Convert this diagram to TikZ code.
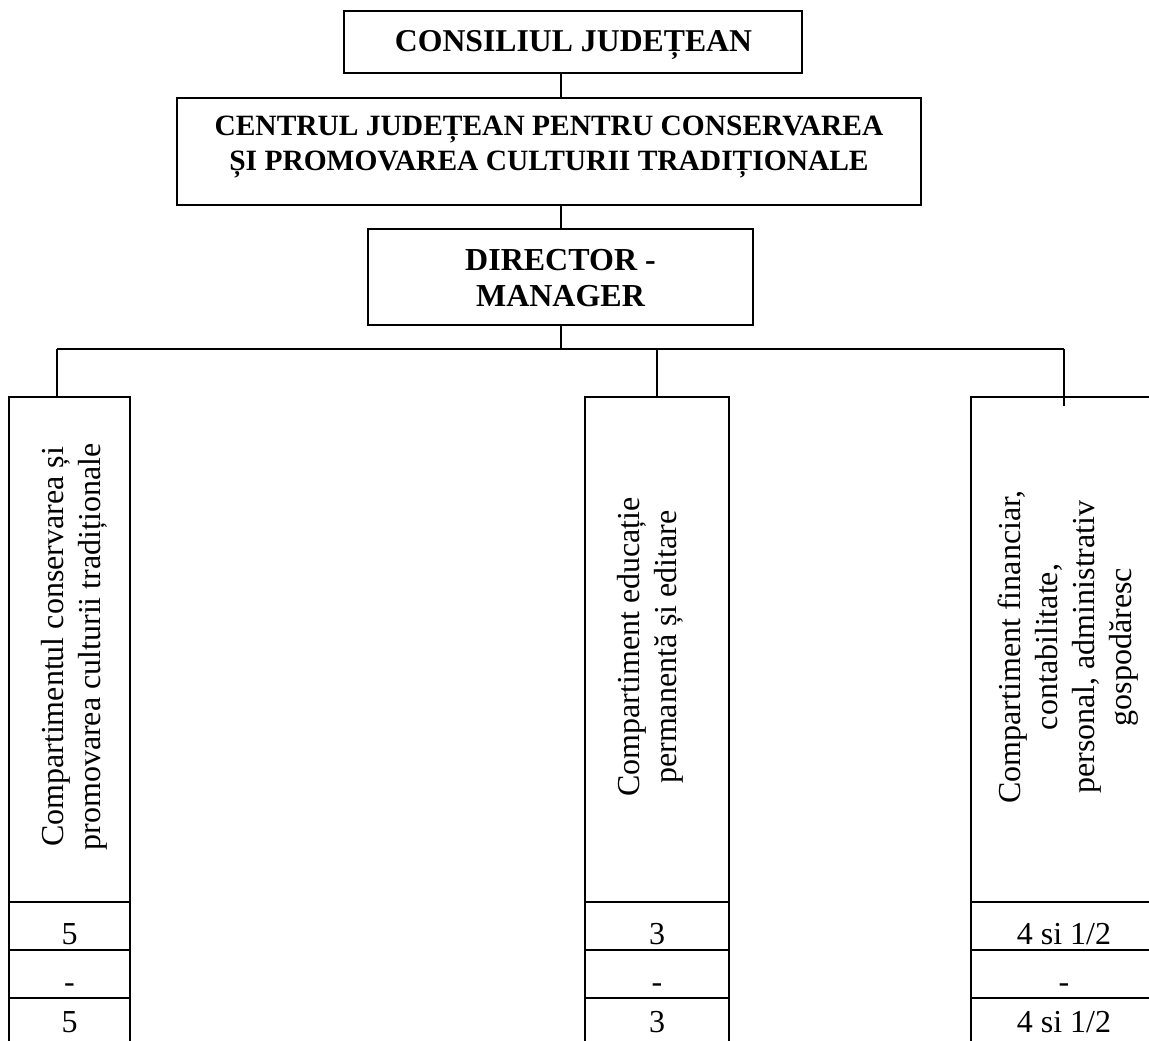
\documentclass[tikz,border=0pt]{standalone}
\usepackage{fontspec}
\setmainfont{Liberation Serif}

\tikzset{
  box/.style={draw, line width=1.5pt, inner sep=0pt},
  link/.style={line width=1.5pt},
  cell/.style={box, minimum height=36pt, text height=27pt, text depth=0pt,
    font=\fontsize{24}{28}\selectfont},
  lastcell/.style={cell, minimum height=33.75pt, text height=18.5pt},
  vtext/.style={rotate=90, align=center, font=\fontsize{24}{27.6}\selectfont}
}

\begin{document}
\begin{tikzpicture}[x=0.75pt,y=-0.75pt]
  \clip (0,0) rectangle (1149,1041);

  % Top of the chart
  \node[box, minimum width=343.5pt, minimum height=46.5pt] (council) at (573,42) {};
  \node[anchor=base, font=\fontsize{23.8}{28}\selectfont\bfseries] (councilT) at (573.5,52) {CONSILIUL JUDEȚEAN};

  \node[box, minimum width=558pt, minimum height=80.25pt] (centre) at (549,151.5) {};
  \node[align=center, font=\fontsize{22.1}{26.25}\selectfont\bfseries] (centreT) at (549,147)
    {CENTRUL JUDEȚEAN PENTRU CONSERVAREA\\ȘI PROMOVAREA CULTURII TRADIȚIONALE};

  \node[box, minimum width=288.75pt, minimum height=72pt] (director) at (560.5,277) {};
  \node[align=center, font=\fontsize{24}{27}\selectfont\bfseries] (directorT) at (560.5,278.5)
    {DIRECTOR -\\MANAGER};

  % Links
  \draw[link] (council.south -| director.north) -- (centre.north -| director.north);
  \draw[link] (centre.south -| director.north) -- (director.north);

  \coordinate (dropA) at (57,349);
  \coordinate (dropB) at (657,349);
  \coordinate (dropC) at (1064,349);
  \coordinate (endC) at (1064,406);

  \draw[link] (director.south) -- (director.south |- dropA);
  \draw[link] (dropA) -- (dropC);

  % Compartments
  \node[box, minimum width=90.75pt, minimum height=378.75pt] (colA) at (69.5,649.5) {};
  \node[box, minimum width=108pt, minimum height=378.75pt] (colB) at (657,649.5) {};
  \node[box, minimum width=139.5pt, minimum height=378.75pt] (colC) at (1064,649.5) {};

  \draw[link] (dropA) -- (dropA |- colA.north);
  \draw[link] (dropB) -- (dropB |- colB.north);
  \draw[link] (dropC) -- (endC);

  \node[vtext] (colAT) at (74,647) {Compartimentul conservarea și\\promovarea culturii tradiționale};
  \node[vtext] (colBT) at (650,647) {Compartiment educație\\permanentă și editare};
  \node[vtext] (colCT) at (1068,647) {Compartiment financiar,\\contabilitate,\\personal, administrativ\\gospodăresc};

  % Staff numbers
  \node[cell, minimum width=90.75pt] (colA1) at (69.5,926) {5};
  \node[cell, minimum width=90.75pt] (colA2) at (69.5,974) {-};
  \node[lastcell, minimum width=90.75pt] (colA3) at (69.5,1020.5) {5};

  \node[cell, minimum width=108pt] (colB1) at (657,926) {3};
  \node[cell, minimum width=108pt] (colB2) at (657,974) {-};
  \node[lastcell, minimum width=108pt] (colB3) at (657,1020.5) {3};

  \node[cell, minimum width=139.5pt] (colC1) at (1064,926) {4 si 1/2};
  \node[cell, minimum width=139.5pt] (colC2) at (1064,974) {-};
  \node[lastcell, minimum width=139.5pt] (colC3) at (1064,1020.5) {4 si 1/2};
\end{tikzpicture}
\end{document}
